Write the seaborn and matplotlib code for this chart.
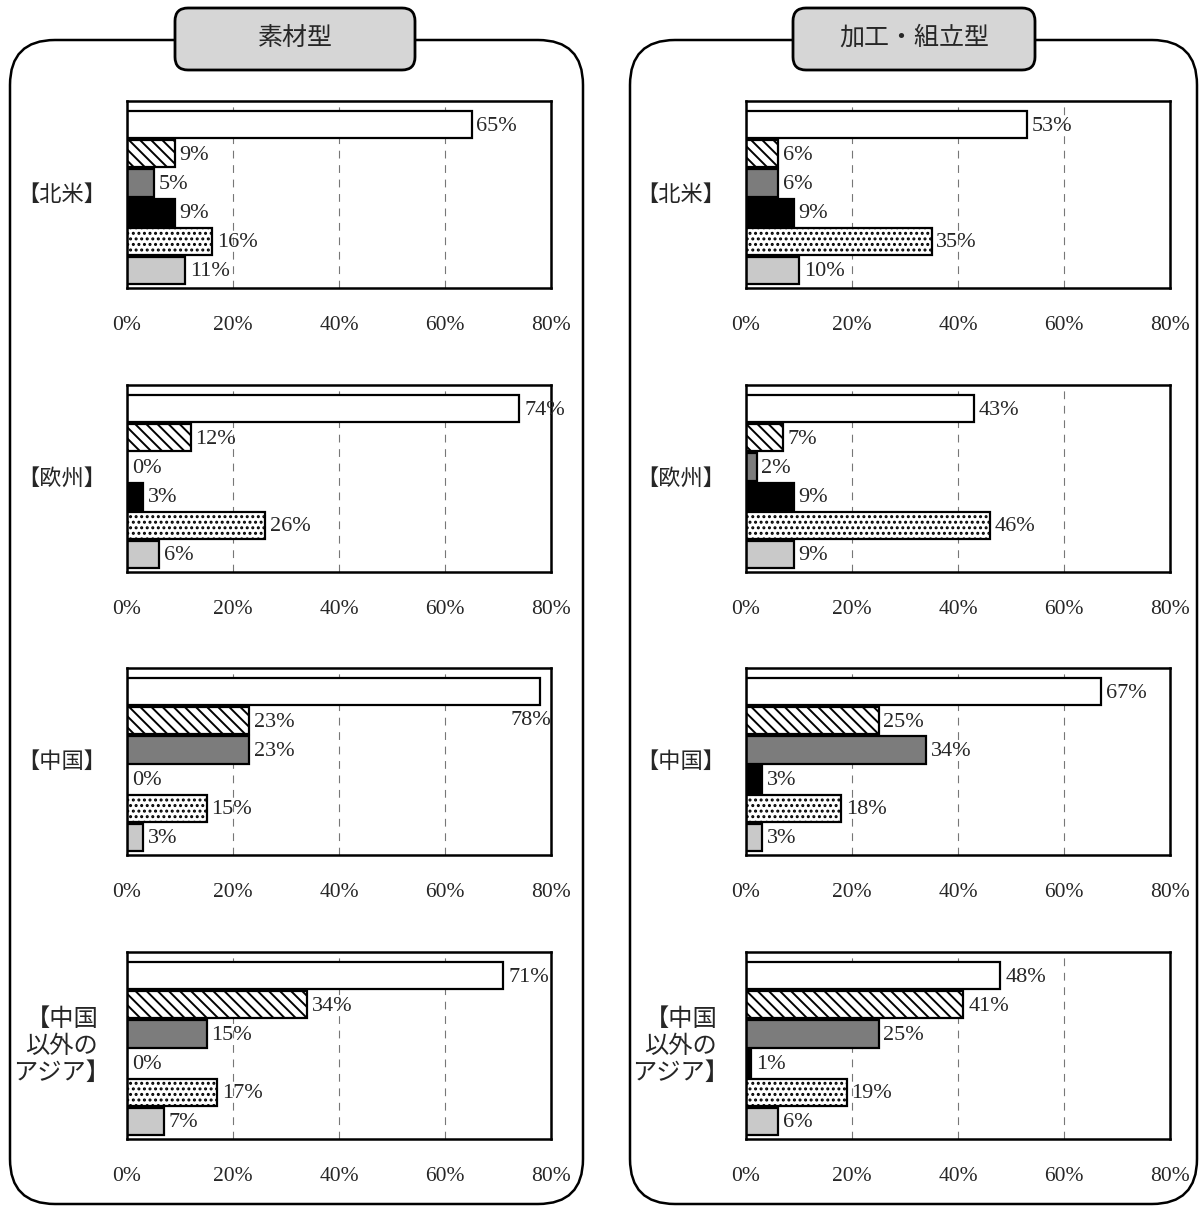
import numpy as np
import pandas as pd
import matplotlib
matplotlib.use("Agg")
import matplotlib.pyplot as plt
from matplotlib.patches import FancyBboxPatch
import seaborn as sns

# ---- data ----
panel_titles = ["素材型", "加工・組立型"]
regions = ["【北米】", "【欧州】", "【中国】", "【中国\n以外の\nアジア】"]
items = ["項目1", "項目2", "項目3", "項目4", "項目5", "項目6"]

# shares (%) per region, in item order
material_values = [
    [65, 9, 5, 9, 16, 11],
    [74, 12, 0, 3, 26, 6],
    [78, 23, 23, 0, 15, 3],
    [71, 34, 15, 0, 17, 7],
]
assembly_values = [
    [53, 6, 6, 9, 35, 10],
    [43, 7, 2, 9, 46, 9],
    [67, 25, 34, 3, 18, 3],
    [48, 41, 25, 1, 19, 6],
]
x_ticks = [0, 20, 40, 60, 80]

# bar styles (fill, hatch)
bar_colors = ["#ffffff", "#ffffff", "#7c7c7c", "#000000", "#ffffff", "#c9c9c9"]
bar_hatches = [None, "\\\\\\", None, None, "...", None]

W, H = 1200, 1207
SERIF = "Liberation Serif"
JP = ["Noto Sans CJK JP", "DejaVu Sans"]


def build_frame():
    rows = []
    for p, vals in zip(panel_titles, [material_values, assembly_values]):
        for r, row in zip(regions, vals):
            for it, v in zip(items, row):
                rows.append({"panel": p, "region": r, "item": it, "value": v})
    return pd.DataFrame(rows)


def draw_frames(fig):
    """Rounded panel borders and title boxes (pixel coords -> inches)"""
    tr = fig.dpi_scale_trans
    for (x0, x1), (tx0, tx1), title in zip([(10, 583), (630, 1197)],
                                          [(175, 415), (793, 1035)],
                                          panel_titles):
        box = FancyBboxPatch((x0 / 100, 0.03), (x1 - x0) / 100, (H - 40) / 100 - 0.03,
                             boxstyle="round,pad=0,rounding_size=0.45",
                             transform=tr, fill=False, edgecolor="black",
                             linewidth=1.8, zorder=0)
        fig.patches.append(box)
        tb = FancyBboxPatch((tx0 / 100, (H - 70) / 100), (tx1 - tx0) / 100, 0.62,
                            boxstyle="round,pad=0,rounding_size=0.13",
                            transform=tr, facecolor="#d6d6d6", edgecolor="black",
                            linewidth=2.0, zorder=1)
        fig.patches.append(tb)
        fig.text((tx0 + tx1) / 2 / W, 1 - 38 / H, title, ha="center", va="center",
                 fontsize=18, family=JP)


def draw_region(ax, sub, region):
    sns.barplot(data=sub, x="value", y="item", hue="item", order=items,
                hue_order=items, palette=dict(zip(items, bar_colors)),
                orient="h", width=0.93, edgecolor="black", linewidth=1.6,
                legend=False, ax=ax)
    for patch, h in zip(ax.patches, bar_hatches):
        if h:
            patch.set_hatch(h)

    for i, v in enumerate(sub.set_index("item").loc[items, "value"]):
        if v > 74:
            ax.text(80, i + 1, f"{v}%", ha="right", va="center",
                    fontsize=16, family=SERIF)
        else:
            ax.annotate(f"{v}%", (v, i), xytext=(3.5, -1), textcoords="offset points",
                        ha="left", va="center", fontsize=16, family=SERIF)

    ax.set_xlim(0, 80)
    ax.set_ylim(5.6, -0.81)
    ax.set_xticks(x_ticks)
    ax.set_xticklabels([f"{t}%" for t in x_ticks], fontsize=15.5, family=SERIF)
    ax.tick_params(axis="x", length=0, pad=20)
    ax.set_yticks([])
    ax.set_xlabel("")
    ax.set_ylabel("")
    ax.set_axisbelow(True)
    ax.grid(axis="x", color="#777777", linestyle=(0, (7, 6)), linewidth=0.8)
    for s in ax.spines.values():
        s.set_visible(True)
        s.set_linewidth(1.8)
        s.set_color("black")

    multi = "\n" in region
    ax.annotate(region, (0, 0.5), xycoords="axes fraction",
                xytext=(-12 if multi else -15, 0),
                textcoords="offset points", ha="right", va="center",
                multialignment="center", fontsize=17.5 if multi else 16,
                family=JP, linespacing=1.05)


def main():
    sns.set_theme(style="white")
    plt.rcParams["hatch.linewidth"] = 1.4
    df = build_frame()

    fig = plt.figure(figsize=(W / 100, H / 100), dpi=100)
    draw_frames(fig)

    lefts = [127, 746]
    tops = [101, 385, 668, 952]
    for p, x0 in zip(panel_titles, lefts):
        for r, top in zip(regions, tops):
            ax = fig.add_axes([x0 / W, 1 - (top + 187) / H, 424 / W, 187 / H])
            sub = df[(df["panel"] == p) & (df["region"] == r)]
            draw_region(ax, sub, r)

    fig.savefig("out.png", dpi=100)


if __name__ == "__main__":
    main()
